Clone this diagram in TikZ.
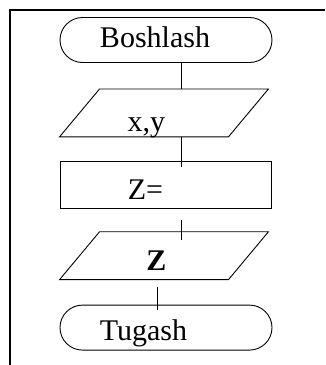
\documentclass[tikz,border=0pt]{standalone}
\usepackage{fontspec}
\setmainfont{Liberation Serif}
\usetikzlibrary{positioning,shapes.misc}
\tikzset{term node/.style={rounded rectangle,draw,minimum width=212pt,minimum height=45pt,inner sep=0pt},
	io node/.style={rectangle,minimum width=208pt,minimum height=47pt,inner sep=0pt},
	proc node/.style={rectangle,draw,minimum width=211pt,minimum height=47pt,inner sep=0pt},
	txt/.style={anchor=base,inner sep=0pt,font=\fontsize{30}{36}\selectfont},
}

\begin{document}
\begin{tikzpicture}[x=1pt,y=-1pt,line width=0.9pt]
	\useasboundingbox (0,0) rectangle (325,365);
	\draw[line width=2pt] (325,10) -- (10,10) -- (10,365);
	
	\node[term node] (start) at (166,40) {};
	\node[io node] (in) [below=26pt of start,xshift=-2pt] {};
	\node[proc node] (calc) [below=24pt of in,xshift=1.5pt] {};
	\node[io node] (out) [below=23pt of calc,xshift=-1.5pt] {};
	\node[term node] (stop) [below=25pt of out,xshift=2pt] {};
	
	% slanted input/output boxes
	\foreach \n in {in,out}
	\draw ([xshift=40pt]\n.north west) -- (\n.north east) -- ([xshift=-40pt]\n.south east) -- (\n.south west) -- cycle;
	
	\node[txt] (start text) at ([xshift=-11pt,yshift=-7pt]start.center) {Boshlash};
	\node[txt] (in text) at ([xshift=-17.5pt,yshift=-18.5pt]in.center) {x,y};
	\node[txt] (calc text) at ([xshift=-20pt,yshift=-14.5pt]calc.center) {Z=};
	\node[txt] (out text) at ([xshift=-7.5pt,yshift=-15pt]out.center) {\textbf{Z}};
	\node[txt] (stop text) at ([xshift=-22.5pt,yshift=-13pt]stop.center) {Tugash};
	
	\path[draw]
	([xshift=15pt]start.south) edge ([xshift=17pt]in.north)
	([xshift=17pt]in.south) edge ([xshift=15.5pt,yshift=-6pt]calc.north)
	([xshift=15.5pt,yshift=-11pt]calc.south) edge ([xshift=17pt,yshift=-8pt]out.north)
	([xshift=-7pt,yshift=-7pt]out.south) edge ([xshift=-9pt,yshift=-5pt]stop.north);
\end{tikzpicture}
\end{document}
